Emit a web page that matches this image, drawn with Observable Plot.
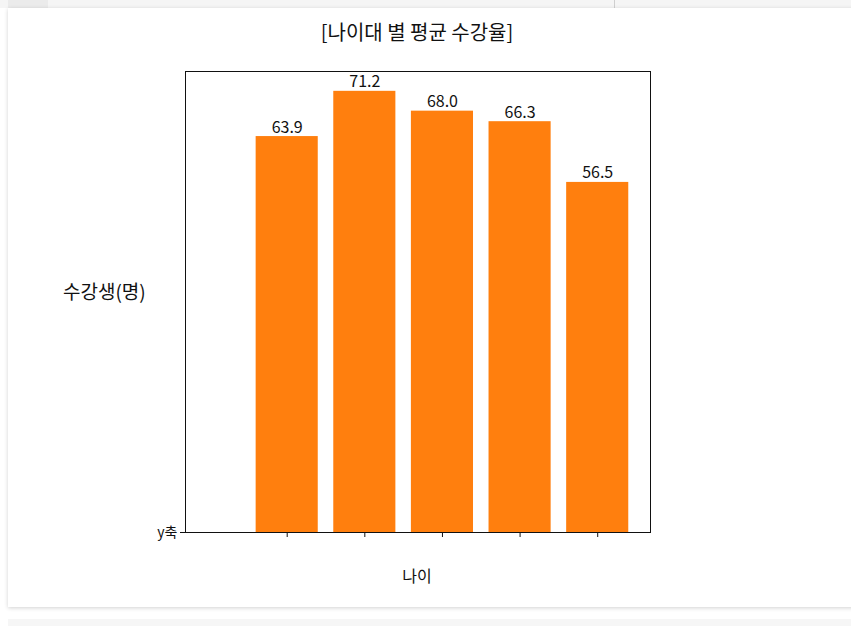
<!DOCTYPE html>
<html>
<head>
<meta charset="utf-8">
<script src="https://cdn.jsdelivr.net/npm/d3@7"></script>
<script src="https://cdn.jsdelivr.net/npm/@observablehq/plot@0.6"></script>
<style>
  html, body { margin: 0; padding: 0; width: 851px; height: 626px; overflow: hidden; background: #fff; font-family: "Noto Sans CJK KR", "Noto Sans", sans-serif; }
  #topstrip { position: absolute; left: 0; top: 0; width: 851px; height: 8px; background: #f5f5f5; }
  #topdark { position: absolute; left: 8px; top: 0; width: 40px; height: 8px; background: #ebebeb; }
  #topline { position: absolute; left: 614px; top: 0; width: 1px; height: 8px; background: #cfcfcf; }
  #card { position: absolute; left: 8px; top: 8px; width: 860px; height: 599px; background: #fff; box-shadow: 0 1px 4px rgba(0,0,0,0.18); }
  #botstrip { position: absolute; left: 8px; top: 619px; width: 843px; height: 7px; background: #f6f6f6; }
  #chart { position: absolute; left: 0; top: 0; }
  .lbl { position: absolute; color: #111; white-space: nowrap; line-height: 1; }
  #title { left: 0; width: 834px; text-align: center; top: 22px; font-size: 20px; }
  #ylab { left: 63px; top: 281px; font-size: 19px; }
  #xlab { left: 0; width: 834px; text-align: center; top: 567px; font-size: 16px; }
</style>
</head>
<body>
<div id="topstrip"></div>
<div id="topdark"></div>
<div id="topline"></div>
<div id="card"></div>
<div id="botstrip"></div>
<div id="chart"></div>
<div class="lbl" id="title">[나이대 별 평균 수강율]</div>
<div class="lbl" id="ylab">수강생(명)</div>
<div class="lbl" id="xlab">나이</div>
<script>
const positions = [0, 1, 2, 3, 4];
const values = [63.9, 71.2, 68.0, 66.3, 56.5];
const yTickLabels = ["y축"];
const yTicks = [0];

const data = positions.map((p, i) => ({x: p, v: values[i]}));

const chart = Plot.plot({
  width: 851,
  height: 626,
  marginLeft: 185,
  marginRight: 201,
  marginTop: 71,
  marginBottom: 94,
  style: {fontFamily: "'Noto Sans CJK KR', 'Noto Sans', sans-serif", fontSize: "14px", background: "transparent", color: "#111"},
  x: {domain: [-1.31, 4.68]},
  y: {domain: [0, 74.4]},
  marks: [
    Plot.rectY(data, {x1: d => d.x - 0.4, x2: d => d.x + 0.4, y: "v", fill: "#ff7f0e"}),
    Plot.text(data, {x: "x", y: "v", text: d => d.v.toFixed(1), lineAnchor: "bottom", dy: -4, fontSize: 16, fill: "#111"}),
    Plot.axisX({ticks: positions, tickFormat: () => "", tickSize: 5, label: null, stroke: "#111"}),
    Plot.axisY({ticks: yTicks, tickFormat: (d, i) => yTickLabels[i], tickSize: 5, tickPadding: 3, label: null, fontSize: 14}),
    Plot.frame({stroke: "#111"})
  ]
});
document.getElementById("chart").appendChild(chart);
</script>
</body>
</html>
